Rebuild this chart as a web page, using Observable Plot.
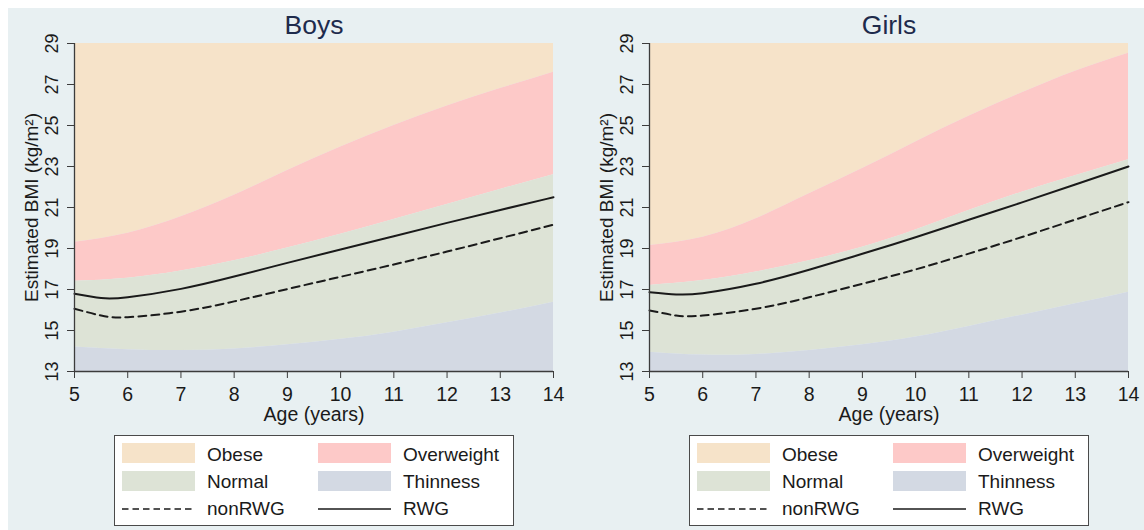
<!DOCTYPE html>
<html>
<head>
<meta charset="utf-8">
<script src="https://cdn.jsdelivr.net/npm/d3@7"></script>
<script src="https://cdn.jsdelivr.net/npm/@observablehq/plot@0.6"></script>
<style>
  body { margin: 0; background: #fff; font-family: "Liberation Sans", Arial, sans-serif; }
  #page { position: relative; width: 1144px; height: 530px; overflow: hidden; }
  #bg { position: absolute; left: 8px; top: 8px; right: 0; bottom: 0; background: #e8f0f2; }
  .panel { position: absolute; top: 0; }
  .legend { position: absolute; top: 435px; width: 400px; height: 91px; box-sizing: border-box;
            border: 1px solid #4a4a4a; background: #fff; }
  .sw { position: absolute; width: 73px; height: 20px; }
  .lg-text { position: absolute; font-size: 19px; line-height: 22px; color: #1a1a1a; white-space: nowrap; }
  .lg-line { position: absolute; width: 73px; height: 4px; }
</style>
</head>
<body>
<div id="page"><div id="bg"></div></div>
<script>
// Ages at which the reference bands and the two trajectories are tabulated
const ages = [5, 6, 7, 8, 9, 10, 11, 12, 13, 14];
const lineAges = [5, 5.5, 6, 7, 8, 9, 10, 11, 12, 13, 14];
const xTicks = [5, 6, 7, 8, 9, 10, 11, 12, 13, 14];
const yTicks = [13, 15, 17, 19, 21, 23, 25, 27, 29];
const yMin = 13, yMax = 29;

// Boys: upper limits of the thinness, normal and overweight bands (BMI, kg/m²)
const boysThin   = [14.19, 14.06, 14.02, 14.10, 14.30, 14.57, 14.92, 15.38, 15.85, 16.38];
const boysNormal = [17.40, 17.55, 17.90, 18.40, 19.02, 19.70, 20.42, 21.15, 21.88, 22.60];
const boysOver   = [19.30, 19.75, 20.55, 21.60, 22.80, 23.95, 25.00, 25.95, 26.80, 27.60];
// Boys: estimated trajectories
const boysRWG    = [16.79, 16.58, 16.62, 17.03, 17.63, 18.30, 18.95, 19.60, 20.25, 20.88, 21.50];
const boysNonRWG = [16.06, 15.73, 15.65, 15.92, 16.42, 17.02, 17.62, 18.22, 18.85, 19.50, 20.16];

// Girls: upper limits of the thinness, normal and overweight bands
const girlsThin   = [13.94, 13.80, 13.83, 14.02, 14.30, 14.68, 15.20, 15.75, 16.30, 16.87];
const girlsNormal = [17.20, 17.44, 17.85, 18.40, 19.06, 19.90, 20.85, 21.75, 22.55, 23.33];
const girlsOver   = [19.15, 19.55, 20.45, 21.67, 22.90, 24.20, 25.45, 26.60, 27.65, 28.53];
// Girls: estimated trajectories
const girlsRWG    = [16.87, 16.76, 16.82, 17.28, 17.96, 18.74, 19.55, 20.40, 21.25, 22.12, 23.00];
const girlsNonRWG = [15.98, 15.73, 15.73, 16.06, 16.62, 17.28, 17.98, 18.75, 19.56, 20.41, 21.26];

// Band names and fills
const bandNames  = ["Obese", "Overweight", "Normal", "Thinness"];
const bandColors = ["#f6e3c9", "#fdc9c8", "#dde3d6", "#d3d9e3"];
const lineNames  = ["nonRWG", "RWG"];
const lineDashes = ["8,5", null];

const axisColor = "#3c3c3c";
const textColor = "#1a1a1a";
const titleColor = "#1e2b4c";
const font = '"Liberation Sans", Arial, sans-serif';

function panel(title, thin, normal, over, rwg, nonrwg) {
  const bandRows = ages.map((age, i) => ({age, thin: thin[i], normal: normal[i], over: over[i]}));
  const lineRows = lineAges.map((age, i) => ({age, rwg: rwg[i], nonrwg: nonrwg[i]}));
  const bandLimits = [
    [d => d.over, () => yMax],
    [d => d.normal, d => d.over],
    [d => d.thin, d => d.normal],
    [() => yMin, d => d.thin]
  ];
  return Plot.plot({
    width: 575,
    height: 430,
    marginLeft: 74,
    marginRight: 22,
    marginTop: 43,
    marginBottom: 59,
    style: {background: "transparent", fontFamily: font, overflow: "visible"},
    x: {domain: [5, 14]},
    y: {domain: [yMin, yMax]},
    marks: [
      ...bandLimits.map(([lo, hi], k) =>
        Plot.areaY(bandRows, {x: "age", y1: lo, y2: hi, fill: bandColors[k], curve: "natural"})),
      Plot.line(lineRows, {x: "age", y: "nonrwg", stroke: textColor, strokeWidth: 2,
                           strokeDasharray: lineDashes[0], curve: "natural"}),
      Plot.line(lineRows, {x: "age", y: "rwg", stroke: textColor, strokeWidth: 2, curve: "natural"}),
      Plot.ruleY([yMin], {stroke: axisColor, strokeWidth: 1.3}),
      Plot.ruleX([5], {stroke: axisColor, strokeWidth: 1.3}),
      Plot.axisX(xTicks, {tickSize: 7, tickPadding: 9, fontSize: 19.5, label: null,
                          stroke: axisColor, fill: textColor}),
      Plot.axisY(yTicks, {tickSize: 7, fill: "none", stroke: axisColor, label: null}),
      Plot.text(yTicks, {y: d => d, text: d => String(d), frameAnchor: "left", dx: -22.5,
                         rotate: -90, textAnchor: "middle", fontSize: 18, fill: textColor}),
      Plot.text([title], {text: d => d, frameAnchor: "top", dy: -28, lineAnchor: "top",
                          fontSize: 26.5, fill: titleColor}),
      Plot.text(["Age (years)"], {text: d => d, frameAnchor: "bottom", dy: 36, lineAnchor: "top",
                                  fontSize: 19.5, fill: textColor}),
      Plot.text(["Estimated BMI (kg/m²)"], {text: d => d, frameAnchor: "left", dx: -43, rotate: -90,
                                            textAnchor: "middle", fontSize: 19, fill: textColor})
    ]
  });
}

function legend(left) {
  const box = document.createElement("div");
  box.className = "legend";
  box.style.left = left + "px";
  const entries = [
    ...bandNames.map((name, k) => ({name, fill: bandColors[k]})),
    ...lineNames.map((name, k) => ({name, dash: lineDashes[k], line: true}))
  ];
  const swTop = [7, 35];
  const textCenter = [19, 45.5, 73];
  entries.forEach((e, i) => {
    const col = i % 2, row = Math.floor(i / 2);
    const x0 = 7 + col * 196;
    if (e.line) {
      const svg = document.createElementNS("http://www.w3.org/2000/svg", "svg");
      svg.setAttribute("class", "lg-line");
      svg.setAttribute("width", 73);
      svg.setAttribute("height", 4);
      svg.style.left = x0 + "px";
      svg.style.top = (textCenter[row] - 2) + "px";
      const ln = document.createElementNS("http://www.w3.org/2000/svg", "line");
      ln.setAttribute("x1", 0); ln.setAttribute("x2", 73);
      ln.setAttribute("y1", 2); ln.setAttribute("y2", 2);
      ln.setAttribute("stroke", textColor);
      ln.setAttribute("stroke-width", 1.6);
      if (e.dash) ln.setAttribute("stroke-dasharray", "6.5,4");
      svg.appendChild(ln);
      box.appendChild(svg);
    } else {
      const sw = document.createElement("div");
      sw.className = "sw";
      sw.style.left = x0 + "px";
      sw.style.top = swTop[row] + "px";
      sw.style.background = e.fill;
      box.appendChild(sw);
    }
    const t = document.createElement("div");
    t.className = "lg-text";
    t.textContent = e.name;
    t.style.left = (x0 + 85) + "px";
    t.style.top = (textCenter[row] - 11) + "px";
    box.appendChild(t);
  });
  return box;
}

const page = document.getElementById("page");
const boys = panel("Boys", boysThin, boysNormal, boysOver, boysRWG, boysNonRWG);
boys.classList.add("panel");
boys.style.left = "0px";
page.appendChild(boys);
const girls = panel("Girls", girlsThin, girlsNormal, girlsOver, girlsRWG, girlsNonRWG);
girls.classList.add("panel");
girls.style.left = "575px";
page.appendChild(girls);
page.appendChild(legend(114));
page.appendChild(legend(689));
</script>
</body>
</html>
